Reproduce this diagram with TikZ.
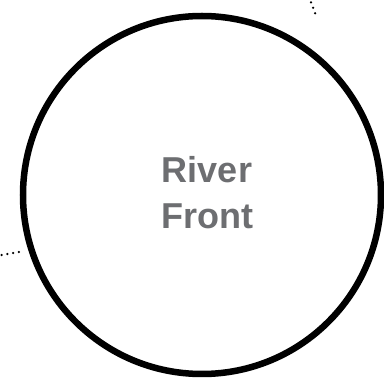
\documentclass[tikz,border=0pt]{standalone}
\usepackage{fontspec}
\setmainfont{Liberation Sans}
\definecolor{labelgray}{HTML}{6D6E71}
\tikzset{
  ring/.style={circle, draw=black, line width=6.5pt, minimum size=358pt, inner sep=0pt, fill=white},
  ringlabel/.style={text=labelgray, font=\bfseries\fontsize{36}{46}\selectfont, align=center},
  dotlink/.style={draw=black, line width=2.5pt, line cap=round, dash pattern=on 0pt off 5.8pt}
}
\begin{document}
\begin{tikzpicture}[x=1pt,y=-1pt]
\useasboundingbox (0,0) rectangle (384,382);
\coordinate (tA) at (309,-3);
\coordinate (tB) at (317,18);
\coordinate (lA) at (-4,256);
\coordinate (lB) at (19,252);
\draw[dotlink] (tA) -- (tB);
\draw[dotlink] (lA) -- (lB);
\node[ring] (rf) at (202,195) {};
\node[ringlabel] (lbl) at (207,193) {River\\Front};
\end{tikzpicture}
\end{document}
